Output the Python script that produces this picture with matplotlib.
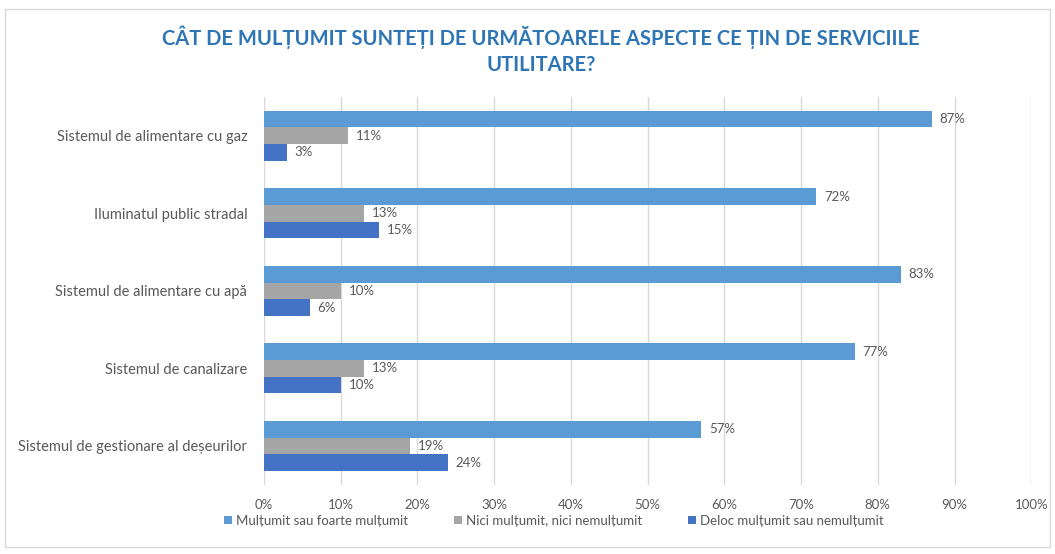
import numpy as np
import matplotlib
matplotlib.use("Agg")
import matplotlib.pyplot as plt
from matplotlib.patches import Rectangle

plt.rcParams['font.family'] = ['Lato', 'DejaVu Sans']

# data
categories = ["Sistemul de alimentare cu gaz", "Iluminatul public stradal",
              "Sistemul de alimentare cu apă", "Sistemul de canalizare",
              "Sistemul de gestionare al deșeurilor"]
multumit = [87, 72, 83, 77, 57]
nici = [11, 13, 10, 13, 19]
deloc = [3, 15, 6, 10, 24]
series_names = ["Mulțumit sau foarte mulțumit", "Nici mulțumit, nici nemulțumit",
                "Deloc mulțumit sau nemulțumit"]
xticks = np.arange(0, 101, 10)

colors = ['#5B9BD5', '#A5A5A5', '#4472C4']
txt_col = '#595959'

fig = plt.figure(figsize=(10.55, 5.54), dpi=100)
ax = fig.add_axes([0.2502, 0.125, 0.7273, 0.700])

y = np.arange(len(categories))
h = 0.215
for k, (vals, off) in enumerate(zip([multumit, nici, deloc], [-h, 0, h])):
    bars = ax.barh(y + off, vals, height=h, color=colors[k], label=series_names[k], zorder=3)
    for b, v in zip(bars, vals):
        ax.text(v + 1.0, b.get_y() + h / 2, f"{v}%", va='center', ha='left',
                fontsize=9.5, color=txt_col)

ax.set_xlim(0, 100)
ax.set_ylim(len(categories) - 0.5, -0.5)
ax.set_xticks(xticks)
ax.set_xticklabels([f"{t}%" for t in xticks], fontsize=9.5, color=txt_col)
ax.set_yticks(y)
ax.set_yticklabels(categories, fontsize=10.5, color=txt_col)
ax.tick_params(axis='both', length=0, pad=10)
ax.tick_params(axis='y', pad=12)
ax.grid(axis='x', color='#D9D9D9', linewidth=1, zorder=0)
for s in ax.spines.values():
    s.set_visible(False)

fig.text(0.513, 0.909, "CÂT DE MULȚUMIT SUNTEȚI DE URMĂTOARELE ASPECTE CE ȚIN DE SERVICIILE\nUTILITARE?",
         ha='center', va='center', fontsize=14.5, fontweight='bold', color='#2E75B6',
         linespacing=1.4)

ax.legend(loc='center', bbox_to_anchor=(0.525, 0.06), bbox_transform=fig.transFigure,
          ncol=3, frameon=False, fontsize=9.5, handlelength=0.6, handleheight=0.6,
          handletextpad=0.3, columnspacing=3.5, labelcolor=txt_col)

fig.patches.append(Rectangle((0.005, 0.012), 0.99, 0.972, transform=fig.transFigure,
                             fill=False, edgecolor='#D9D9D9', linewidth=1))

fig.savefig("out.png", dpi=100)
